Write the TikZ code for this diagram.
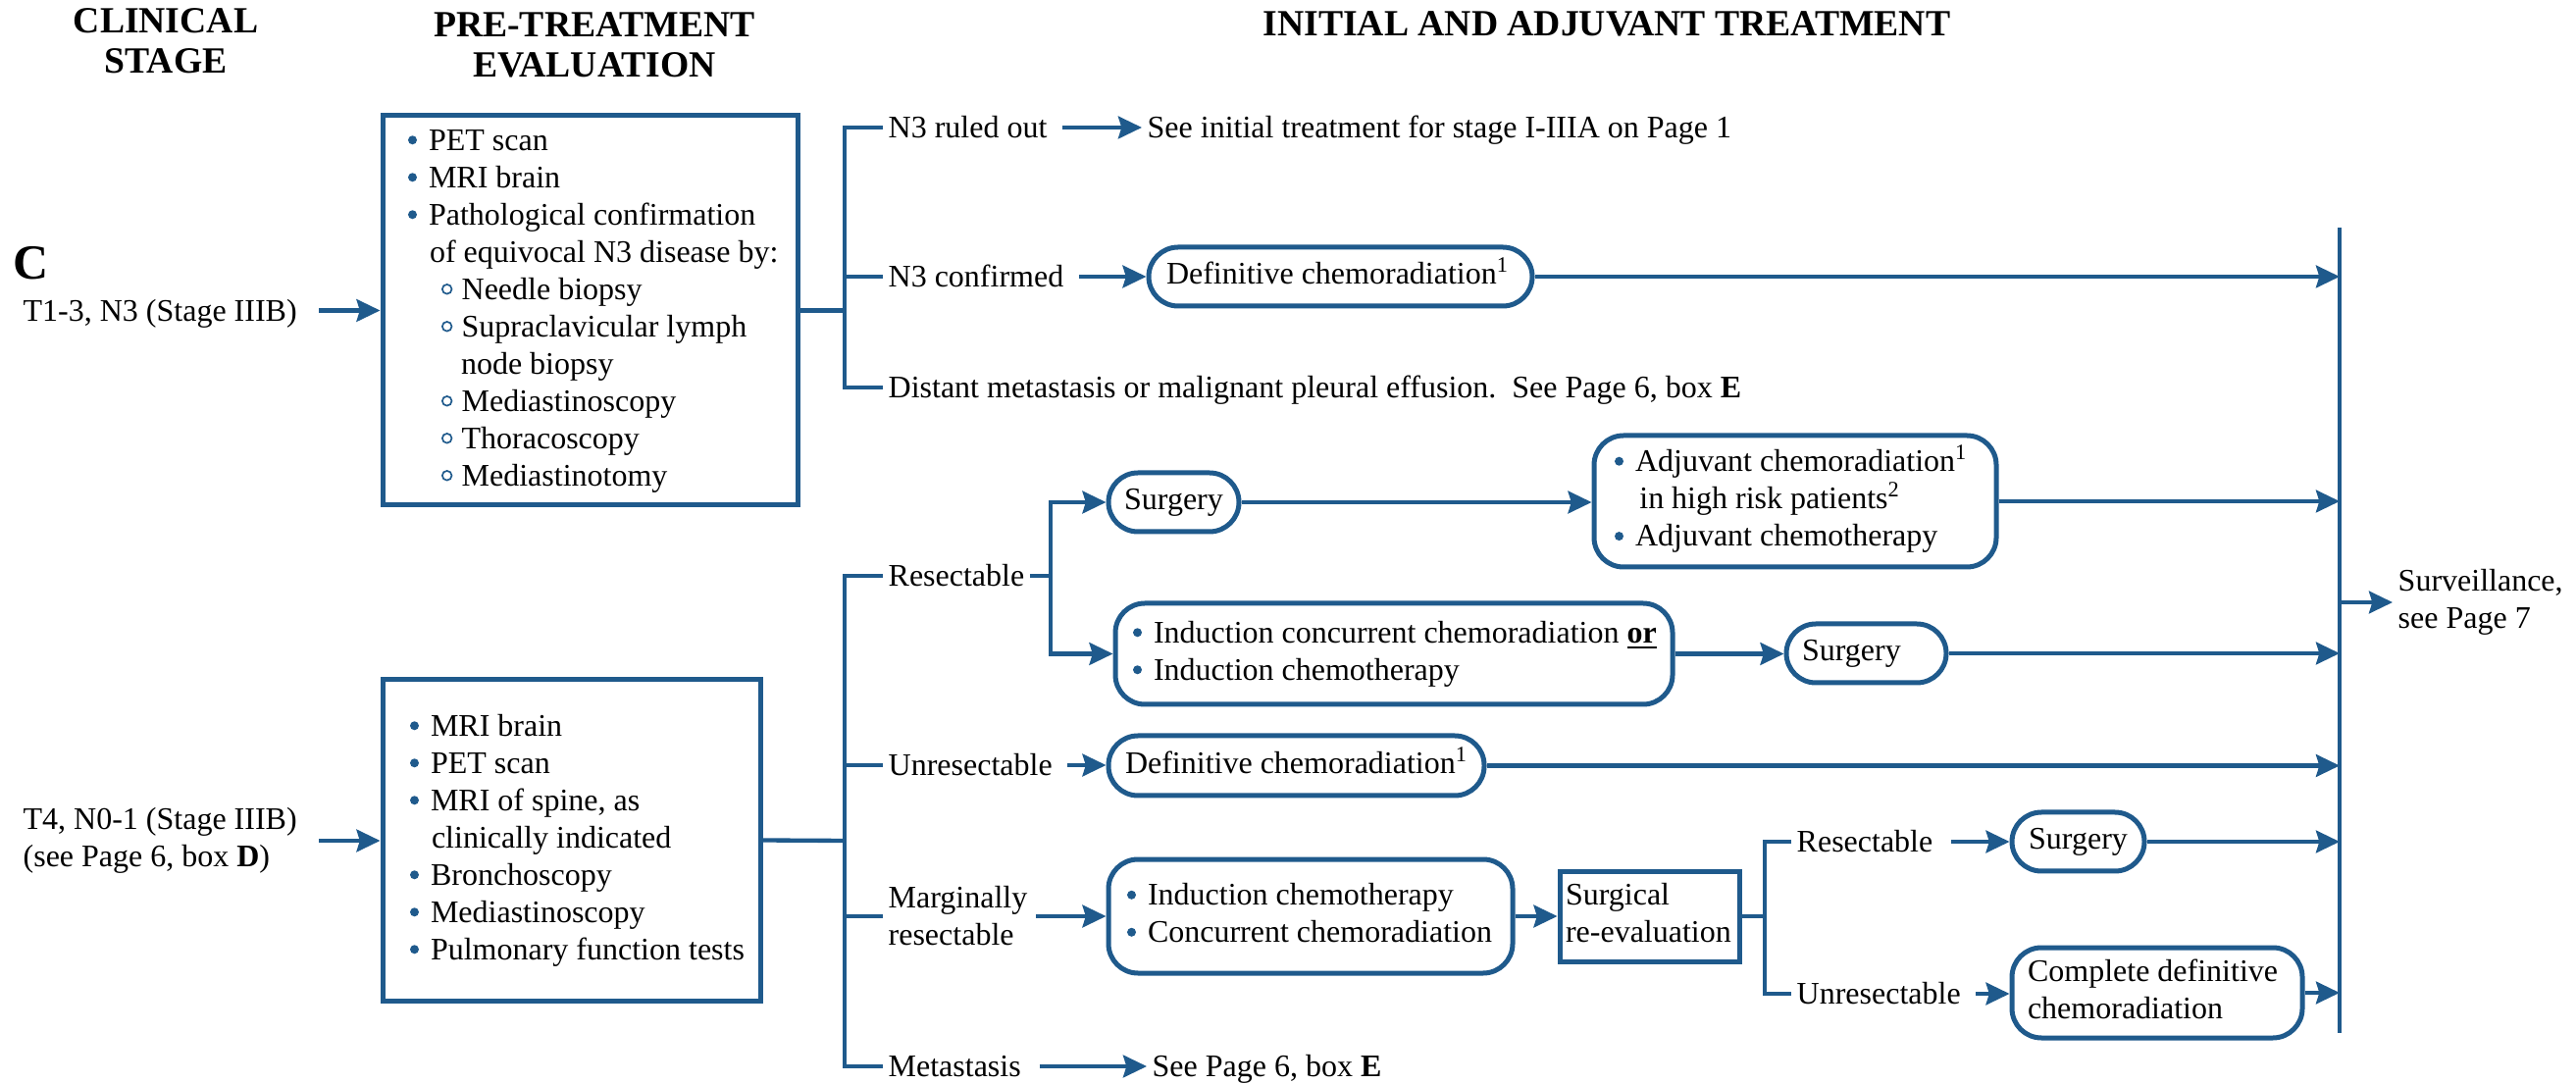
\documentclass[tikz,border=0pt]{standalone}
\usepackage{fontspec}
\setmainfont{Liberation Serif}
\usetikzlibrary{arrows.meta}
\definecolor{flowblue}{RGB}{31,90,140}
% list markers
\newcommand\bul{\tikz[baseline=-3.1pt]\fill[flowblue] (0,0) circle (1.35pt);\hspace{3.6pt}}
\newcommand\sbul{\tikz[baseline=-3.1pt]\draw[flowblue,line width=0.5pt] (0,0) circle (1.45pt);\hspace{2.8pt}}
% left-aligned block of lines of a given width
\newcommand\lines[2]{\makebox[#1][l]{\begin{tabular}{@{}l@{}}#2\end{tabular}}}
\newcommand\centline[1]{\begin{tabular}{@{}c@{}}#1\end{tabular}}
\tikzset{
  every node/.style={font=\fontsize{9.6}{11.4}\selectfont},
  ln/.style={draw=flowblue, line width=1.3pt},
  arr/.style={ln, -{Stealth[length=7.2pt,width=6.8pt,inset=1pt]}},
  sqbox/.style={draw=flowblue, line width=1.5pt, rectangle, inner ysep=0pt},
  rbox/.style={sqbox, rounded corners=9pt},
  lbl/.style={anchor=west, inner xsep=1.5pt, inner ysep=0pt, text height=8.4pt, text depth=2pt},
  mlbl/.style={anchor=west, inner xsep=1.5pt, inner ysep=0pt, align=left},
  head/.style={font=\fontsize{11.3}{12.4}\selectfont\bfseries, align=center, inner sep=0pt},
}
\begin{document}
\begin{tikzpicture}[x=0.3pt, y=-0.3pt]
\path[fill=white, use as bounding box] (0,0) rectangle (2626,1105);

% column headings
\node[head] (h1) at (169,42) {CLINICAL\\STAGE};
\node[head] (h2) at (606,46) {PRE-TREATMENT\\EVALUATION};
\node[head] (h3) at (1638,24) {INITIAL AND ADJUVANT TREATMENT};
\node[anchor=west, inner sep=0pt, font=\fontsize{15}{15}\selectfont\bfseries] (sec) at (13,268) {C};

% clinical stages
\node[lbl] (st1) at (18,316.5) {T1-3, N3 (Stage IIIB)};
\node[mlbl] (st2) at (18,857) {T4, N0-1 (Stage IIIB)\\(see Page 6, box \textbf{D})};

% pre-treatment evaluation
\node[sqbox, minimum width=126.9pt, minimum height=119.1pt, inner xsep=7.8pt] (pre1) at (601.5,316.5)
  {\lines{111.3pt}{\bul PET scan\\ \bul MRI brain\\ \bul Pathological confirmation\\
   \hspace*{6.6pt}of equivocal N3 disease by:\\
   \hspace*{10.2pt}\sbul Needle biopsy\\
   \hspace*{10.2pt}\sbul Supraclavicular lymph\\
   \hspace*{16.2pt}node biopsy\\
   \hspace*{10.2pt}\sbul Mediastinoscopy\\
   \hspace*{10.2pt}\sbul Thoracoscopy\\
   \hspace*{10.2pt}\sbul Mediastinotomy}};
\node[sqbox, minimum width=115.5pt, minimum height=98.1pt, inner xsep=8.4pt] (pre2) at (582.5,856.5)
  {\lines{98.7pt}{\bul MRI brain\\ \bul PET scan\\ \bul MRI of spine, as\\
   \hspace*{6.6pt}clinically indicated\\ \bul Bronchoscopy\\ \bul Mediastinoscopy\\
   \bul Pulmonary function tests}};

\draw[arr, shorten <=5pt] (st1.east) -- (st1.east -| pre1.west);
\draw[arr, shorten <=5pt] (st2.east) -- (st2.east -| pre2.west);

% right-hand collector
\coordinate (btop) at (2385,232);
\coordinate (bbot) at (2385,1053);
\coordinate (sv) at (2385,614);
\draw[ln] (btop) -- (bbot);
\node[mlbl] (sur) at (2439,614) {Surveillance,\\see Page 7};
\draw[arr] (sv) -- (sur.west);

% ---- T1-3, N3 branch
\coordinate (j1) at (861,316.5);
\node[lbl] (a1) at (900,130) {N3 ruled out};
\node[lbl] (t1) at (1164,130) {See initial treatment for stage I-IIIA on Page 1};
\node[lbl] (a2) at (900,282) {N3 confirmed};
\node[rbox, minimum width=117.3pt, minimum height=18pt, inner xsep=5.4pt] (d1) at (1366.5,282)
  {\lines{106.5pt}{Definitive chemoradiation\textsuperscript{1}}};
\node[lbl] (a3) at (900,395) {Distant metastasis or malignant pleural effusion.\ \ See Page 6, box \textbf{E}};

\draw[ln] (pre1.east) -- (j1);
\draw[ln] (a1.west) -| (j1) |- (a3.west);
\draw[ln] (j1 |- a2.west) -- (a2.west);
\draw[arr, shorten <=3pt] (a1.east) -- (t1.west);
\draw[arr, shorten <=3pt] (a2.east) -- (d1.west);
\draw[arr] (d1.east) -- (d1.east -| btop);

% ---- T4, N0-1 branch
\coordinate (j2) at (861,857);
\node[lbl] (b1) at (900,587) {Resectable};
\node[lbl] (b2) at (900,780) {Unresectable};
\node[mlbl] (b3) at (900,934) {Marginally\\resectable};
\node[lbl] (b4) at (900,1087) {Metastasis};
\node[lbl] (t2) at (1169,1087) {See Page 6, box \textbf{E}};

\draw[ln] (pre2.east) -- (j2);
\draw[ln] (b1.west) -| (j2) |- (b4.west);
\draw[ln] (j2 |- b2.west) -- (b2.west);
\draw[ln] (j2 |- b3.west) -- (b3.west);

% resectable
\coordinate (j3) at (1071,587);
\node[rbox, minimum width=39.9pt, minimum height=18pt, inner xsep=2pt] (s1) at (1196.5,512) {\centline{Surgery}};
\node[rbox, minimum width=123pt, minimum height=40.2pt, inner xsep=6.3pt] (adj) at (1830,511)
  {\lines{110.4pt}{\bul Adjuvant chemoradiation\textsuperscript{1}\\
   \hspace*{7.6pt}in high risk patients\textsuperscript{2}\\
   \bul Adjuvant chemotherapy}};
\node[rbox, minimum width=170.4pt, minimum height=30.9pt, inner xsep=5.4pt] (ind) at (1421,666.5)
  {\lines{159.6pt}{\bul Induction concurrent chemoradiation \underline{\textbf{or}}\\
   \bul Induction chemotherapy}};
\node[rbox, minimum width=48.9pt, minimum height=18pt, inner xsep=4.8pt] (s2) at (1902.5,666) {\lines{39.3pt}{Surgery}};

\draw[ln] (b1.east) -- (j3);
\draw[arr] (j3) |- (s1.west);
\draw[arr] (j3) |- (ind.west);
\draw[arr] (s1.east) -- (s1.east -| adj.west);
\draw[arr] (adj.east) -- (adj.east -| btop);
\draw[arr] (ind.east) -- (ind.east -| s2.west);
\draw[arr] (s2.east) -- (s2.east -| btop);

% unresectable
\node[rbox, minimum width=114.9pt, minimum height=18.3pt, inner xsep=5.1pt] (d2) at (1321.5,780.5)
  {\lines{104.7pt}{Definitive chemoradiation\textsuperscript{1}}};
\draw[arr, shorten <=3pt] (b2.east) -- (b2.east -| d2.west);
\draw[arr] (d2.east) -- (d2.east -| btop);

% marginally resectable
\node[rbox, minimum width=123.6pt, minimum height=34.8pt, inner xsep=5.7pt] (mr) at (1336,934)
  {\lines{112.2pt}{\bul Induction chemotherapy\\ \bul Concurrent chemoradiation}};
\node[sqbox, minimum width=54.9pt, minimum height=27.6pt, inner xsep=1.8pt] (sr) at (1681.5,934)
  {\lines{51.3pt}{Surgical\\re-evaluation}};
\draw[arr, shorten <=1pt] (b3.east) -- (b3.east -| mr.west);
\draw[arr] (mr.east) -- (mr.east -| sr.west);

\coordinate (j4) at (1799,934);
\node[lbl] (c1) at (1826,858) {Resectable};
\node[lbl] (c2) at (1826,1013) {Unresectable};
\node[rbox, minimum width=40.5pt, minimum height=18pt, inner xsep=2pt] (s3) at (2118.5,858) {\centline{Surgery}};
\node[rbox, minimum width=88.8pt, minimum height=27.6pt, inner xsep=4.8pt] (cd) at (2199,1012)
  {\lines{79.2pt}{Complete definitive\\chemoradiation}};
\draw[ln] (sr.east) -- (j4);
\draw[ln] (c1.west) -| (j4) |- (c2.west);
\draw[arr, shorten <=4pt] (c1.east) -- (c1.east -| s3.west);
\draw[arr, shorten <=3pt] (c2.east) -- (c2.east -| cd.west);
\draw[arr] (s3.east) -- (s3.east -| btop);
\draw[arr] (cd.east) -- (cd.east -| btop);

% metastasis
\draw[arr, shorten <=4pt] (b4.east) -- (t2.west);
\end{tikzpicture}
\end{document}
